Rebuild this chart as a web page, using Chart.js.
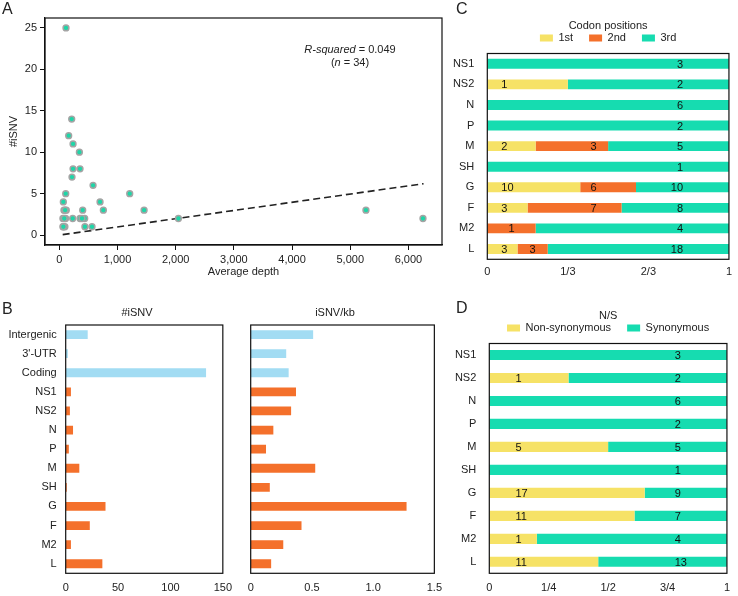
<!DOCTYPE html>
<html lang="en">
<head>
<meta charset="UTF-8">
<title>iSNV panels</title>
<script src="https://cdn.jsdelivr.net/npm/chart.js"></script>
<style>
  body { margin: 0; background: #fff; font-family: "Liberation Sans", Arial, sans-serif; color: #222; }
  #page { position: relative; width: 738px; height: 596px; overflow: hidden; }
  .box { position: absolute; }
  .letter { position: absolute; font-size: 16px; line-height: 16px; }
  .ptitle { position: absolute; font-size: 11px; line-height: 13px; transform: translateX(-50%); white-space: nowrap; }
  #rsq { position: absolute; left: 350px; top: 43px; font-size: 11px; line-height: 13px; text-align: center; transform: translateX(-50%); white-space: nowrap; }
</style>
</head>
<body>
<div id="page">
  <div class="box" style="left:0;top:0;width:470px;height:280px"><canvas id="chartA"></canvas></div>
  <div class="box" style="left:0;top:300px;width:240px;height:296px"><canvas id="chartB1"></canvas></div>
  <div class="box" style="left:236px;top:300px;width:214px;height:296px"><canvas id="chartB2"></canvas></div>
  <div class="box" style="left:440px;top:0;width:298px;height:290px"><canvas id="chartC"></canvas></div>
  <div class="box" style="left:440px;top:290px;width:298px;height:306px"><canvas id="chartD"></canvas></div>

  <div class="letter" style="left:2px;top:1px">A</div>
  <div class="letter" style="left:2px;top:301px">B</div>
  <div class="letter" style="left:456px;top:1px">C</div>
  <div class="letter" style="left:456px;top:300px">D</div>
  <div class="ptitle" style="left:137px;top:306px">#iSNV</div>
  <div class="ptitle" style="left:335px;top:306px">iSNV/kb</div>
  <div id="rsq"><i>R-squared</i> = 0.049<br>(<i>n</i> = 34)</div>
</div>

<script>
// panel A: depth vs #iSNV per sample
const depthA = [115, 213, 161, 236, 345, 236, 356, 218, 580, 110, 1210, 69, 700, 80, 120, 402, 757, 1457, 5270,
                62, 108, 230, 356, 436, 2047, 6250, 62, 96, 440, 562, 100, 85, 70, 390];
const isnvA  = [25, 14, 12, 11, 10, 8, 8, 7, 6, 5, 5, 4, 4, 3, 3, 3, 3, 3, 3,
                2, 2, 2, 2, 2, 2, 2, 1, 1, 1, 1, 3, 2, 1, 2];
const fitDepth = [58, 6260];
const fitIsnv = [0.05, 6.2];
const depthTicks = [0, 1000, 2000, 3000, 4000, 5000, 6000];
const isnvTicks = [0, 5, 10, 15, 20, 25];

// panel B
const regions = ['Intergenic', "3'-UTR", 'Coding', 'NS1', 'NS2', 'N', 'P', 'M', 'SH', 'G', 'F', 'M2', 'L'];
const regionIsnv = [21, 2, 134, 5, 4, 7, 3, 13, 1, 38, 23, 5, 35];
const regionPerKb = [0.51, 0.29, 0.31, 0.37, 0.33, 0.185, 0.125, 0.527, 0.156, 1.273, 0.415, 0.266, 0.167];
const isnvCountTicks = [0, 50, 100, 150];
const perKbTicks = [0, 0.5, 1, 1.5];

// panel C / D
const genes = ['NS1', 'NS2', 'N', 'P', 'M', 'SH', 'G', 'F', 'M2', 'L'];
const pos1st = [0, 1, 0, 0, 2, 0, 10, 3, 0, 3];
const pos2nd = [0, 0, 0, 0, 3, 0, 6, 7, 1, 3];
const pos3rd = [3, 2, 6, 2, 5, 1, 10, 8, 4, 18];
const thirdTicks = [0, 1 / 3, 2 / 3, 1];
const thirdLabels = ['0', '1/3', '2/3', '1'];
const nonSyn = [0, 1, 0, 0, 5, 0, 17, 11, 1, 11];
const syn = [3, 2, 6, 2, 5, 1, 9, 7, 4, 13];
const quarterTicks = [0, 0.25, 0.5, 0.75, 1];
const quarterLabels = ['0', '1/4', '1/2', '3/4', '1'];

const YELLOW = '#f6e266', ORANGE = '#f4702b', TEAL = '#16dcb0', SKY = '#a2dcf3';
const FONT = '"Liberation Sans", Arial, sans-serif';

Chart.defaults.font.family = FONT;
Chart.defaults.font.size = 11;
Chart.defaults.color = '#222';
Chart.defaults.animation = false;

const frame = {
  id: 'frame',
  afterDraw(chart) {
    const { ctx, chartArea: a } = chart;
    ctx.save();
    ctx.strokeStyle = '#111';
    ctx.lineWidth = 1.2;
    ctx.strokeRect(a.left, a.top, a.right - a.left, a.bottom - a.top);
    ctx.restore();
  }
};

// count labels inside stacked bars
const segLabels = {
  id: 'segLabels',
  afterDatasetsDraw(chart, args, opts) {
    const ctx = chart.ctx, xs = chart.scales.x;
    const sets = chart.data.datasets;
    ctx.save();
    ctx.font = '11px ' + FONT;
    ctx.fillStyle = '#111';
    ctx.textBaseline = 'middle';
    sets.forEach((ds, di) => {
      const meta = chart.getDatasetMeta(di);
      const anchor = opts.anchors[di];
      meta.data.forEach((bar, i) => {
        const n = ds.counts[i];
        if (!n) return;
        let start = 0;
        for (let k = 0; k < di; k++) start += sets[k].data[i];
        const end = start + ds.data[i];
        let v = anchor.at, align = anchor.align;
        if (v < start || v > end) { v = (start + end) / 2; align = 'center'; }
        ctx.textAlign = align;
        ctx.fillText(String(n), xs.getPixelForValue(v), bar.y + 1);
      });
    });
    ctx.restore();
  }
};

const fixW = w => s => { s.width = w; };
const fixH = h => s => { s.height = h; };
const setTicks = vals => s => { s.ticks = vals.map(v => ({ value: v })); };

// ---------- A ----------
new Chart(document.getElementById('chartA'), {
  type: 'scatter',
  data: {
    datasets: [
      {
        data: depthA.map((x, i) => ({ x, y: isnvA[i] })),
        backgroundColor: '#1ed6a8', borderColor: '#a4a4a4',
        borderWidth: 1.5, pointRadius: 2.9
      },
      {
        type: 'line',
        data: fitDepth.map((x, i) => ({ x, y: fitIsnv[i] })),
        borderColor: '#222', borderWidth: 1.6, borderDash: [7, 4],
        pointRadius: 0, fill: false
      }
    ]
  },
  options: {
    responsive: true, maintainAspectRatio: false,
    layout: { padding: { top: 18, right: 28, left: 0, bottom: 0 } },
    plugins: { legend: { display: false }, tooltip: { enabled: false } },
    scales: {
      x: {
        type: 'linear', min: -246, max: 6577,
        afterBuildTicks: setTicks(depthTicks), afterFit: fixH(35),
        ticks: { padding: 3, callback: v => v.toLocaleString('en-US') },
        grid: { drawOnChartArea: false, drawTicks: true, tickLength: 5, color: '#111' },
        border: { color: '#111', width: 1.2 },
        title: { display: true, text: 'Average depth', padding: { top: 0, bottom: 1 } }
      },
      y: {
        min: -1.2, max: 26.2,
        afterBuildTicks: setTicks(isnvTicks), afterFit: fixW(45),
        ticks: { padding: 3 },
        grid: { drawOnChartArea: false, drawTicks: true, tickLength: 5, color: '#111' },
        border: { color: '#111', width: 1.2 },
        title: { display: true, text: '#iSNV', padding: { top: 7, bottom: 0 } }
      }
    }
  },
  plugins: [frame]
});

// ---------- B ----------
const regionColors = regions.map((r, i) => i < 3 ? SKY : ORANGE);

function barB(id, values, ticks, showLabels, yWidth, padRight) {
  return new Chart(document.getElementById(id), {
    type: 'bar',
    data: {
      labels: regions,
      datasets: [{ data: values, backgroundColor: regionColors, barPercentage: 0.46, categoryPercentage: 1 }]
    },
    options: {
      indexAxis: 'y',
      responsive: true, maintainAspectRatio: false,
      layout: { padding: { top: 25, right: padRight, left: 0, bottom: 0 } },
      plugins: { legend: { display: false }, tooltip: { enabled: false } },
      scales: {
        x: {
          min: ticks[0], max: ticks[ticks.length - 1],
          afterBuildTicks: setTicks(ticks), afterFit: fixH(22.7),
          ticks: { padding: 8 },
          grid: { display: false, drawTicks: false },
          border: { display: false }
        },
        y: {
          afterFit: fixW(yWidth),
          ticks: { display: showLabels, padding: 9 },
          grid: { display: false, drawTicks: false },
          border: { display: false }
        }
      }
    },
    plugins: [frame]
  });
}
barB('chartB1', regionIsnv, isnvCountTicks, true, 65.7, 12.3);
barB('chartB2', regionPerKb, perKbTicks, false, 14.7, 7.7);

// ---------- C / D ----------
function shares(rows) {
  const totals = rows[0].map((_, i) => rows.reduce((t, r) => t + r[i], 0));
  return rows.map(r => r.map((v, i) => v / totals[i]));
}

function stackChart(id, series, names, colors, ticks, tickLabels, title, anchors, barPct, yWidth, xHeight, xPad) {
  const fr = shares(series);
  return new Chart(document.getElementById(id), {
    type: 'bar',
    data: {
      labels: genes,
      datasets: series.map((s, k) => ({
        label: names[k], data: fr[k], counts: s, backgroundColor: colors[k],
        barPercentage: barPct, categoryPercentage: 1
      }))
    },
    options: {
      indexAxis: 'y',
      responsive: true, maintainAspectRatio: false,
      layout: { padding: { top: 4, right: 3, left: 0, bottom: 0 } },
      plugins: {
        tooltip: { enabled: false },
        legend: {
          position: 'top', fullSize: false,
          title: { display: true, text: title, padding: { top: 16.4, bottom: -17.1 } },
          labels: { boxWidth: 13, boxHeight: 7, padding: 16 }
        },
        segLabels: { anchors }
      },
      scales: {
        x: {
          stacked: true, min: 0, max: 1,
          afterBuildTicks: setTicks(ticks), afterFit: fixH(xHeight),
          ticks: { padding: xPad, callback: (v, i) => tickLabels[i] },
          grid: { display: false, drawTicks: false },
          border: { display: false }
        },
        y: {
          stacked: true,
          afterFit: fixW(yWidth),
          ticks: { padding: 13 },
          grid: { display: false, drawTicks: false },
          border: { display: false }
        }
      }
    },
    plugins: [frame, segLabels]
  });
}

stackChart('chartC', [pos1st, pos2nd, pos3rd], ['1st', '2nd', '3rd'], [YELLOW, ORANGE, TEAL],
  thirdTicks, thirdLabels, 'Codon positions',
  [{ at: 0.058, align: 'left' }, { at: 0.44, align: 'center' }, { at: 0.81, align: 'right' }],
  0.48, 47.3, 30.7, 6);

stackChart('chartD', [nonSyn, syn], ['Non-synonymous', 'Synonymous'], [YELLOW, TEAL],
  quarterTicks, quarterLabels, 'N/S',
  [{ at: 0.11, align: 'left' }, { at: 0.78, align: 'left' }],
  0.44, 49.3, 22.7, 8);
</script>
</body>
</html>
